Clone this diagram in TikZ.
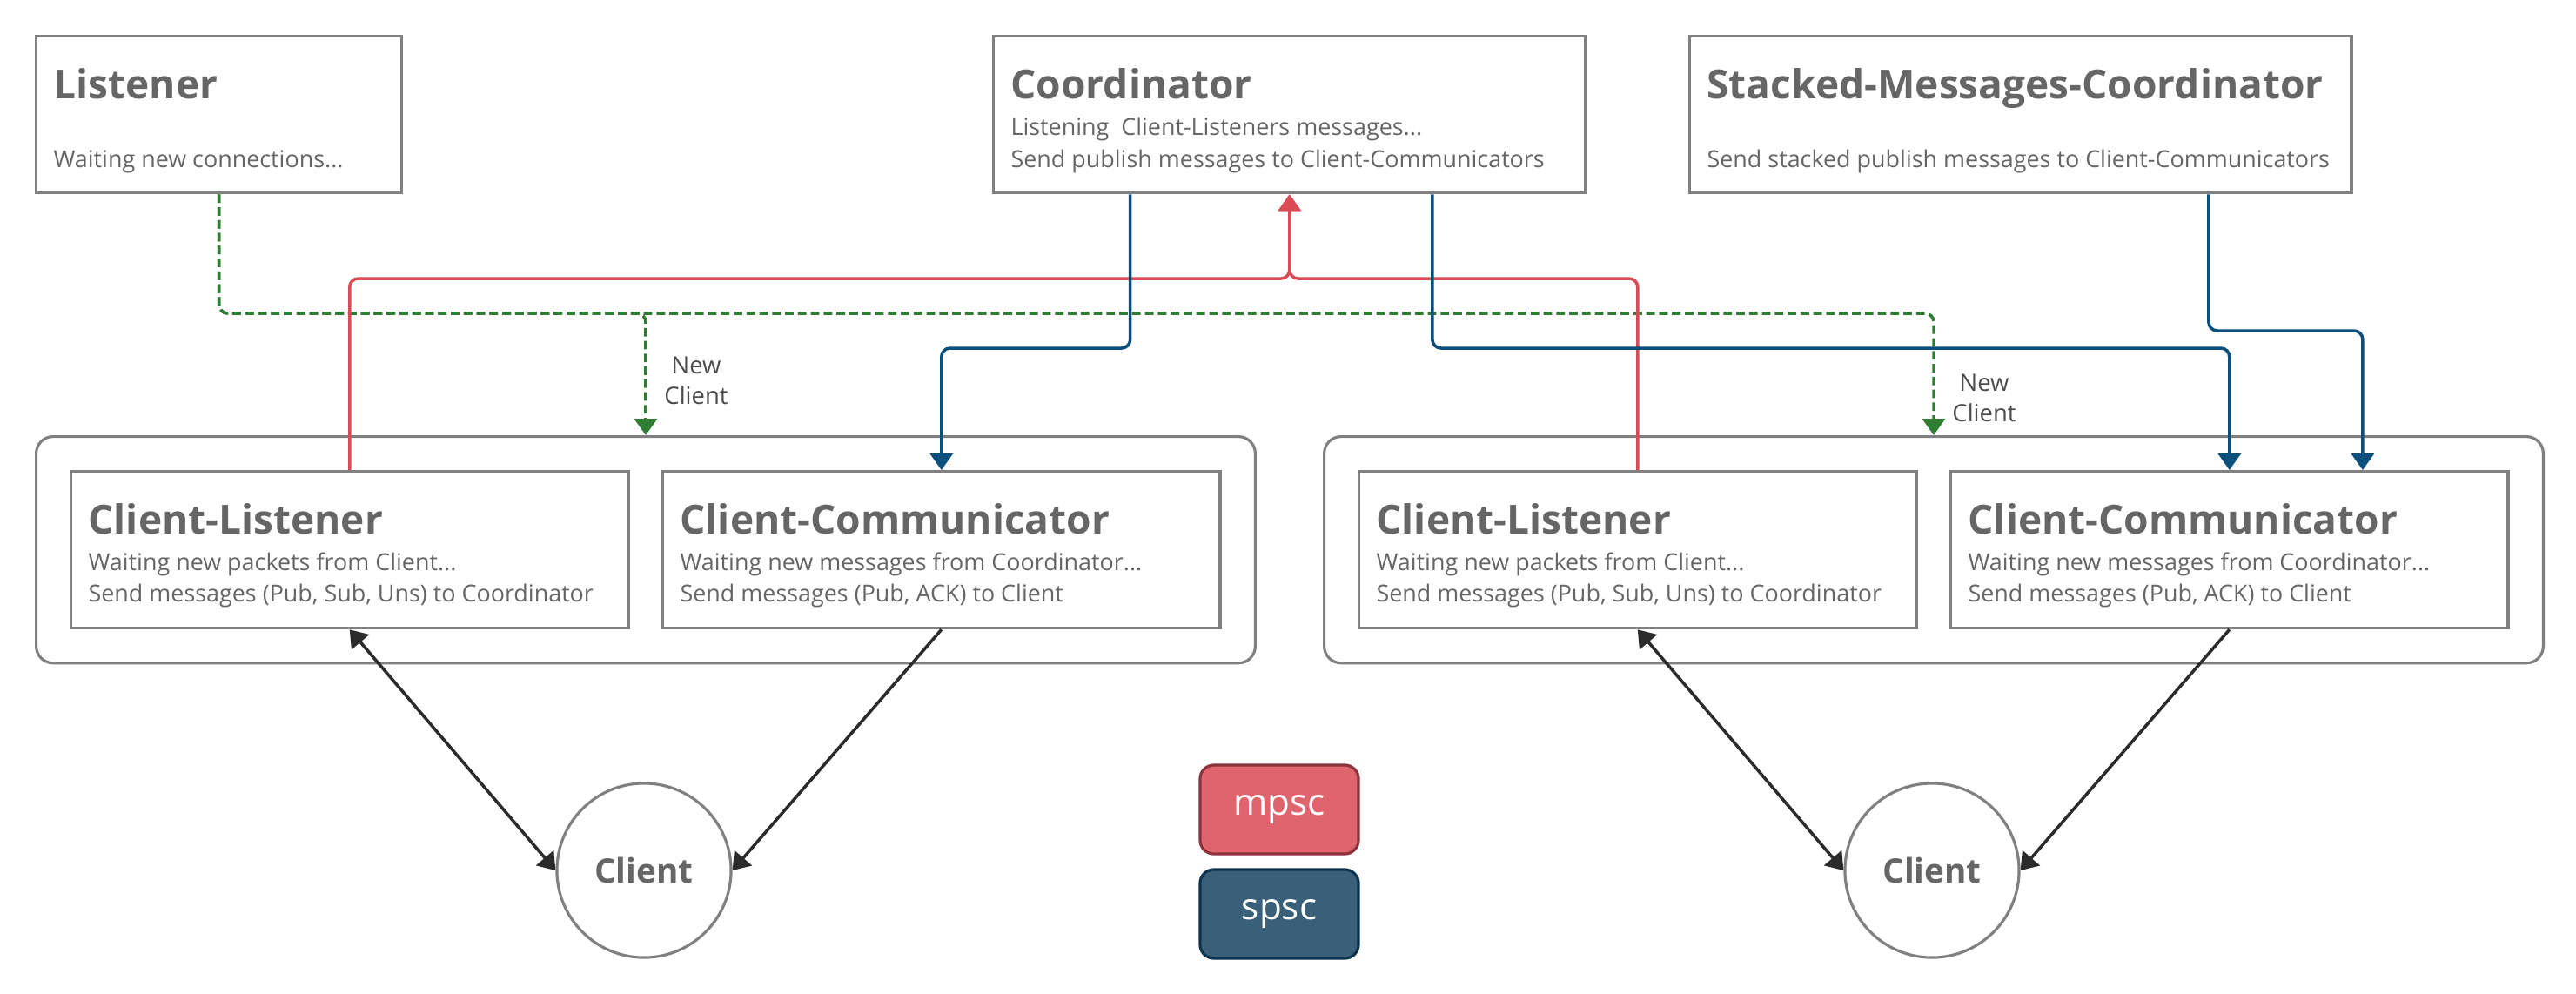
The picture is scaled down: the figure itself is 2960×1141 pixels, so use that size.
\documentclass[tikz,border=0pt]{standalone}
\usepackage{fontspec}
\setmainfont{Open Sans}
\usetikzlibrary{arrows.meta}
\definecolor{boxgray}{HTML}{808080}
\definecolor{txtgray}{HTML}{666666}
\definecolor{lblgray}{HTML}{4D4D4D}
\definecolor{mpscred}{HTML}{DA4B55}
\definecolor{spscblue}{HTML}{0B4F7C}
\definecolor{newgreen}{HTML}{2E7D32}
\definecolor{linkdark}{HTML}{2B2B2B}
\definecolor{mpscfill}{HTML}{E0646E}
\definecolor{mpscedge}{HTML}{8B333B}
\definecolor{spscfill}{HTML}{3A6079}
\definecolor{spscedge}{HTML}{0B3350}

\begin{document}
\begin{tikzpicture}[x=0.01cm, y=-0.01cm, line width=0.9pt,
  >={Triangle[length=5.4pt, width=7.4pt]},
  taskbox/.style={draw=boxgray, fill=white, anchor=north west, inner sep=0pt, minimum height=1.8cm},
  groupbox/.style={taskbox, rounded corners=5.5pt, minimum width=14cm, minimum height=2.6cm},
  clientbox/.style={taskbox, minimum width=6.4cm},
  ttl/.style={anchor=base west, inner sep=0pt, text=txtgray, font=\bfseries\fontsize{13.1}{15}\selectfont},
  desc/.style={anchor=base west, inner sep=0pt, text=txtgray, font=\fontsize{7.65}{10}\selectfont},
  client/.style={circle, draw=boxgray, fill=white, minimum size=2cm, inner sep=0pt, text=txtgray, font=\bfseries\fontsize{11}{13}\selectfont},
  legendbox/.style={rounded corners=4.5pt, minimum width=1.82cm, minimum height=1.02cm, text=white, font=\fontsize{12}{14}\selectfont},
  newlbl/.style={align=center, inner sep=0pt, text=lblgray, font=\fontsize{7.8}{10}\selectfont},
  newconn/.style={newgreen, line width=1pt, dash pattern=on 2.8pt off 1.4pt, rounded corners=2.8pt, ->},
  mpscconn/.style={mpscred, line width=1pt, rounded corners=2.8pt, ->},
  spscconn/.style={spscblue, line width=1pt, rounded corners=2.8pt, ->},
  cliconn/.style={linkdark, line width=1pt}]
  \useasboundingbox (0,0) rectangle (2960,1141);

  % top row
  \node[taskbox, minimum width=4.2cm] (lis) at (40,40) {};
  \node[ttl] (list) at ([shift={(20,73)}]lis.north west) {Listener};
  \node[desc] (lisd) at ([shift={(20,152)}]lis.north west) {Waiting new connections...};

  \node[taskbox, minimum width=6.8cm] (coord) at (1140,40) {};
  \node[ttl] (coordt) at ([shift={(20,73)}]coord.north west) {Coordinator};
  \node[desc] (coorda) at ([shift={(20,115)}]coord.north west) {Listening\ \ Client-Listeners messages...};
  \node[desc] (coordb) at ([shift={(20,152)}]coord.north west) {Send publish messages to Client-Communicators};

  \node[taskbox, minimum width=7.6cm] (stack) at (1940,40) {};
  \node[ttl] (stackt) at ([shift={(20,73)}]stack.north west) {Stacked-Messages-Coordinator};
  \node[desc] (stackd) at ([shift={(20,152)}]stack.north west) {Send stacked publish messages to Client-Communicators};

  % one group per client
  \foreach \s/\dx in {l/0, r/1480} {
    \node[groupbox] (grp\s) at (40+\dx,500) {};
    \node[clientbox] (cl\s) at (80+\dx,540) {};
    \node[ttl] (cl\s t) at ([shift={(20,73)}]cl\s.north west) {Client-Listener};
    \node[desc] (cl\s a) at ([shift={(20,115)}]cl\s.north west) {Waiting new packets from Client...};
    \node[desc] (cl\s b) at ([shift={(20,151)}]cl\s.north west) {Send messages (Pub, Sub, Uns) to Coordinator};
    \node[clientbox] (cc\s) at (760+\dx,540) {};
    \node[ttl] (cc\s t) at ([shift={(20,73)}]cc\s.north west) {Client-Communicator};
    \node[desc] (cc\s a) at ([shift={(20,115)}]cc\s.north west) {Waiting new messages from Coordinator...};
    \node[desc] (cc\s b) at ([shift={(20,151)}]cc\s.north west) {Send messages (Pub, ACK) to Client};
    \node[client] (cli\s) at (740+\dx,1000) {Client};
    \draw[cliconn, <->] (cl\s.south) -- (cli\s.west);
    \draw[cliconn, ->] (cc\s.south) -- (cli\s.east);
  }

  % bus levels
  \coordinate (greenbus) at (0,360);
  \coordinate (redbus) at (0,320);
  \coordinate (bluebus) at (0,400);
  \coordinate (stackbus) at (0,380);

  % new client
  \draw[newconn] (lis.south) |- (grpl.north |- greenbus) -- (grpl.north);
  \draw[newconn] (lis.south) |- (grpr.north |- greenbus) -- (grpr.north);
  \node[newlbl] (newl) at (800,437) {New\\Client};
  \node[newlbl] (newr) at (2280,457) {New\\Client};

  % mpsc
  \draw[mpscconn] (cll.north) |- (coord.south |- redbus) -- (coord.south);
  \draw[mpscconn] (clr.north) |- (coord.south |- redbus) -- (coord.south);

  % spsc
  \draw[spscconn] ([xshift=-1.83cm]coord.south) |- (ccl.north |- bluebus) -- (ccl.north);
  \draw[spscconn] ([xshift=1.64cm]coord.south) |- (ccr.north |- bluebus) -- (ccr.north);
  \draw[spscconn] ([xshift=2.16cm]stack.south) |- ([xshift=1.53cm]ccr.north |- stackbus) -- ([xshift=1.53cm]ccr.north);

  % legend
  \node[legendbox, fill=mpscfill, draw=mpscedge] (mpsc) at (1470,930) {mpsc};
  \node[legendbox, fill=spscfill, draw=spscedge] (spsc) at (1470,1050) {spsc};
\end{tikzpicture}
\end{document}
